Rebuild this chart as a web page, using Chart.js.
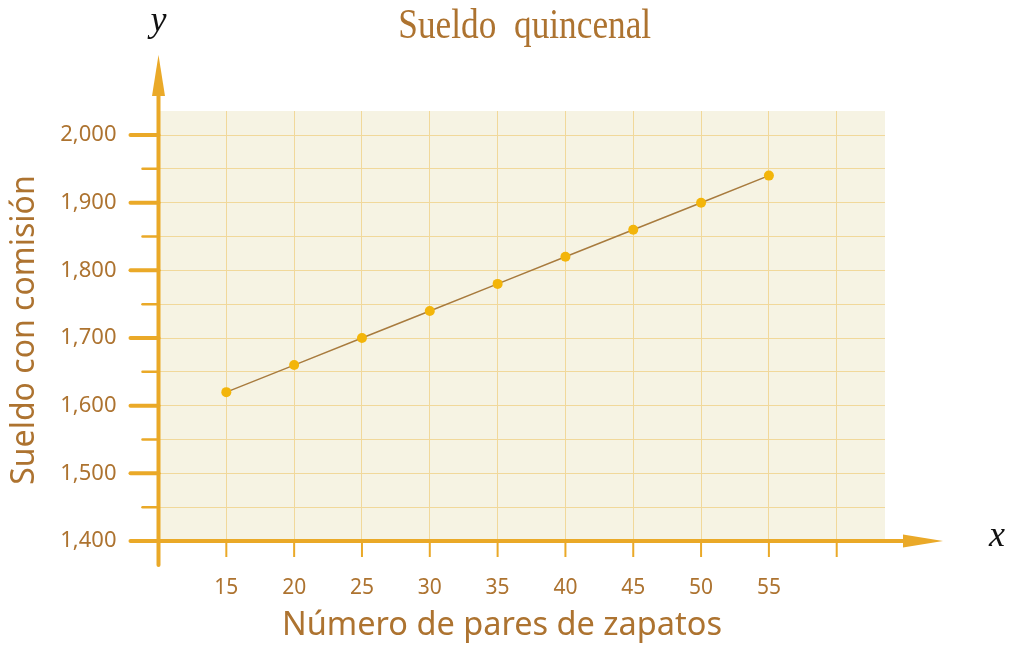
<!DOCTYPE html>
<html>
<head>
<meta charset="utf-8">
<title>Sueldo quincenal</title>
<script src="https://cdn.jsdelivr.net/npm/chart.js@4"></script>
<style>
  html, body { margin: 0; padding: 0; background: #ffffff; overflow: hidden; }
  canvas { display: block; }
</style>
</head>
<body>
<canvas id="salaryChart" width="1014" height="646"></canvas>
<script>
// pares de zapatos vendidos y sueldo quincenal con comisión
let pairs = [15, 20, 25, 30, 35, 40, 45, 50, 55];
let salary = [1620, 1660, 1700, 1740, 1780, 1820, 1860, 1900, 1940];

let xTicks = [15, 20, 25, 30, 35, 40, 45, 50, 55, 60];
let yTicks = [1400, 1450, 1500, 1550, 1600, 1650, 1700, 1750, 1800, 1850, 1900, 1950, 2000];

const brown = "#ad7330";
const orange = "#eaa928";
const gridColor = "#f1d89a";

// cream background, orange axes with arrows, tick marks and titles
const axesPlugin = {
  id: "axesPlugin",
  beforeDraw(chart) {
    const { ctx, chartArea } = chart;
    ctx.save();
    ctx.fillStyle = "#f6f3e3";
    ctx.fillRect(chartArea.left, chartArea.top, chartArea.right - chartArea.left, chartArea.bottom - chartArea.top);
    ctx.restore();
  },
  beforeDatasetsDraw(chart) {
    const { ctx, chartArea } = chart;
    const xs = chart.scales.x;
    const ys = chart.scales.y;
    const x0 = xs.getPixelForValue(10);
    const y0 = ys.getPixelForValue(1400);

    ctx.save();
    ctx.strokeStyle = orange;
    ctx.fillStyle = orange;
    ctx.lineCap = "round";

    // y tick marks
    yTicks.forEach((v) => {
      const py = ys.getPixelForValue(v);
      const major = v % 100 === 0;
      ctx.lineWidth = major ? 4 : 2.5;
      ctx.beginPath();
      ctx.moveTo(x0 - (major ? 28 : 16), py);
      ctx.lineTo(x0, py);
      ctx.stroke();
    });

    // x tick marks
    ctx.lineWidth = 2;
    ctx.lineCap = "butt";
    xTicks.forEach((v) => {
      const px = xs.getPixelForValue(v);
      ctx.beginPath();
      ctx.moveTo(px, y0);
      ctx.lineTo(px, y0 + 16);
      ctx.stroke();
    });

    // y axis
    ctx.lineWidth = 4;
    ctx.lineCap = "round";
    ctx.beginPath();
    ctx.moveTo(x0, y0 + 24);
    ctx.lineTo(x0, chartArea.top - 20);
    ctx.stroke();
    ctx.beginPath();
    ctx.moveTo(x0, chartArea.top - 56);
    ctx.lineTo(x0 - 6.5, chartArea.top - 15);
    ctx.lineTo(x0 + 6.5, chartArea.top - 15);
    ctx.closePath();
    ctx.fill();

    // x axis
    ctx.beginPath();
    ctx.moveTo(x0 - 26, y0);
    ctx.lineTo(chartArea.right + 24, y0);
    ctx.stroke();
    ctx.beginPath();
    ctx.moveTo(chartArea.right + 58, y0);
    ctx.lineTo(chartArea.right + 18, y0 - 6.5);
    ctx.lineTo(chartArea.right + 18, y0 + 6.5);
    ctx.closePath();
    ctx.fill();
    ctx.restore();
  },
  afterDraw(chart) {
    const { ctx, chartArea } = chart;
    const xs = chart.scales.x;
    const ys = chart.scales.y;
    const x0 = xs.getPixelForValue(10);
    const y0 = ys.getPixelForValue(1400);

    ctx.save();
    ctx.textAlign = "center";
    ctx.textBaseline = "middle";

    // chart title, condensed serif
    ctx.fillStyle = brown;
    ctx.font = "42px 'Liberation Serif'";
    ctx.save();
    ctx.translate((chartArea.left + chartArea.right) / 2 + 3, 27);
    ctx.scale(0.84, 1);
    ctx.fillText("Sueldo  quincenal", 0, 0);
    ctx.restore();

    // axis titles
    ctx.font = "32.5px 'Noto Sans'";
    ctx.fillText("Número de pares de zapatos", 502, 626);
    ctx.font = "32px 'Noto Sans'";
    ctx.save();
    ctx.translate(25, 330);
    ctx.rotate(-Math.PI / 2);
    ctx.fillText("Sueldo con comisión", 0, 0);
    ctx.restore();

    // axis letters
    ctx.fillStyle = "#111111";
    ctx.font = "italic 36px 'Liberation Serif'";
    ctx.fillText("y", x0, 22);
    ctx.fillText("x", chartArea.right + 112, y0 - 4);
    ctx.restore();
  },
};

const ctx = document.getElementById("salaryChart").getContext("2d");
const chart = new Chart(ctx, {
  type: "line",
  data: {
    datasets: [
      {
        data: pairs.map((p, i) => ({ x: p, y: salary[i] })),
        borderColor: "#a87b3e",
        borderWidth: 1.5,
        pointRadius: 5,
        pointHoverRadius: 5,
        pointBackgroundColor: "#f3b50a",
        pointBorderWidth: 0,
        fill: false,
        tension: 0,
      },
    ],
  },
  options: {
    responsive: false,
    animation: false,
    devicePixelRatio: 1,
    layout: { padding: { left: 0, right: 129, top: 111, bottom: 0 } },
    plugins: {
      legend: { display: false },
      tooltip: { enabled: false },
      title: { display: false },
    },
    scales: {
      x: {
        type: "linear",
        min: 10,
        max: 63.56,
        afterBuildTicks: (scale) => {
          scale.ticks = xTicks.map((v) => ({ value: v }));
        },
        afterFit: (scale) => {
          scale.height = 105;
        },
        border: { display: false },
        grid: { color: gridColor, lineWidth: 1, drawTicks: false },
        ticks: {
          padding: 34,
          color: brown,
          font: { family: "Noto Sans", size: 21 },
          callback: (v) => (v === 60 ? "" : v),
        },
      },
      y: {
        min: 1400,
        max: 2035.5,
        afterBuildTicks: (scale) => {
          scale.ticks = yTicks.map((v) => ({ value: v }));
        },
        afterFit: (scale) => {
          scale.width = 158.5;
        },
        border: { display: false },
        grid: { color: gridColor, lineWidth: 1, drawTicks: false },
        ticks: {
          padding: 42,
          color: brown,
          font: { family: "Noto Sans", size: 22 },
          callback: (v) => (v % 100 === 0 ? v.toLocaleString("en-US") : ""),
        },
      },
    },
  },
  plugins: [axesPlugin],
});
</script>
</body>
</html>
